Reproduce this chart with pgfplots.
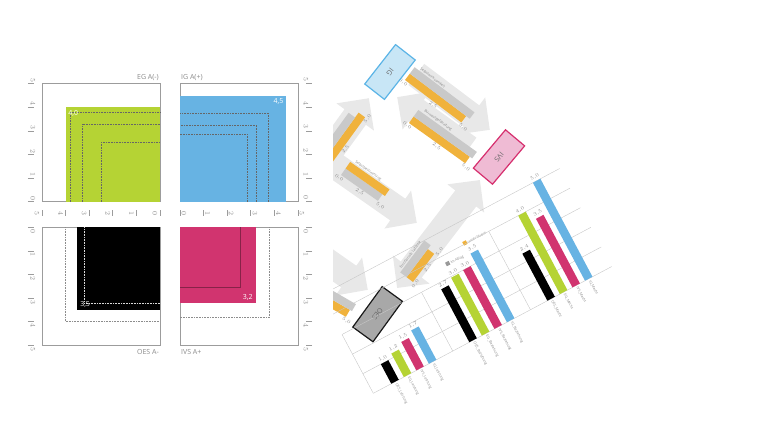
\documentclass[border=0pt]{standalone}
\usepackage{pgfplots}
\pgfplotsset{compat=1.18}
\usetikzlibrary{shapes.arrows}
\usepackage{fontspec}
\setmainfont{Open Sans}
\definecolor{tc}{HTML}{8A8A8A}
\definecolor{ac}{HTML}{9C9C9C}
\definecolor{cgreen}{HTML}{B5D334}
\definecolor{cblue}{HTML}{67B3E3}
\definecolor{cpink}{HTML}{D1346F}
\definecolor{corange}{HTML}{F0B23C}
\definecolor{cgray}{HTML}{C9C9C9}
\definecolor{carrow}{HTML}{E8E8E8}
\definecolor{iglight}{HTML}{C8E6F6}
\definecolor{igdark}{HTML}{5BB4E6}
\definecolor{ivslight}{HTML}{EFBBD4}
\definecolor{ivsdark}{HTML}{D62F6E}
\definecolor{oesgray}{HTML}{A8A8A8}
\newcommand{\tf}{\fontsize{7}{8}\selectfont}
\newcommand{\mtf}{\fontsize{3.6}{4}\selectfont}
\pgfplotsset{
  panel/.style={
    x=23.6pt, y=23.6pt, xmin=0, xmax=5, ymin=0, ymax=5,
    scale only axis, clip=false,
    axis line style={draw=ac, line width=0.7pt},
    xtick={0,...,5}, ytick={0,...,5},
    tick align=outside, major tick length=6pt,
    tick style={draw=ac, line width=0.8pt},
    ticklabel style={font=\tf, text=tc, inner sep=0pt},
    xticklabel={\rotatebox{-90}{\pgfmathprintnumber{\tick}}},
    yticklabel={\rotatebox{-90}{\pgfmathprintnumber{\tick}}},
  },
  dl/.style={densely dotted, line width=0.6pt, draw=black!60},
  minist/.style={scale only axis, clip=false, xbar, bar width=8pt, bar shift=0pt,
    y=8pt, xmin=0, xmax=5, ymin=0, ymax=2,
    axis line style={draw=none}, major tick length=0pt,
    xtick={0,2.5,5}, ytick=\empty,
    xticklabel style={font=\mtf, text=tc, inner sep=1pt},
    /pgf/number format/use comma, /pgf/number format/fixed,
    /pgf/number format/fixed zerofill, /pgf/number format/precision=1},
}
\tikzset{garrow/.style={single arrow, fill=carrow, draw=none, minimum width=46pt,
  single arrow head extend=10pt, single arrow head indent=0pt, inner sep=0pt, anchor=tip}}
\newcommand{\mini}[9]{%
\begin{scope}[transform canvas={shift={(#1pt,#2pt)},rotate=#3}]
\begin{axis}[minist, at={(0pt,0pt)}, anchor=south west, x=#4pt]
\addplot[fill=#5, draw=none] coordinates {(#6,0.5)};
\addplot[fill=#7, draw=none] coordinates {(#8,1.5)};
\node[anchor=south west, font=\mtf, text=tc, inner sep=1pt] at (axis cs:0.3,2) {#9};
\end{axis}
\end{scope}}
\begin{document}
\begin{tikzpicture}
\useasboundingbox (0,0) rectangle (768pt,432pt);
% ---------- panel 1: EG A(-)
\begin{axis}[panel, name=p1, at={(42pt,230.3pt)}, anchor=south west,
  x dir=reverse, tick pos=left,
  xtick style={yshift=-8pt}, ytick style={xshift=-8pt},
  xticklabel style={anchor=center, yshift=-6pt, xshift=-5pt},
  yticklabel style={anchor=center, xshift=-3pt, yshift=3.5pt}]
\addplot[fill=cgreen, draw=none] coordinates {(0,4.0) (4.0,4.0)} \closedcycle;
\addplot[dl] coordinates {(3.8,0) (3.8,3.8) (0,3.8)};
\addplot[dl] coordinates {(3.3,0) (3.3,3.3) (0,3.3)};
\addplot[dl] coordinates {(2.5,0) (2.5,2.5) (0,2.5)};
\node[anchor=north west, text=white, font=\tf, inner sep=1.5pt] at (axis cs:3.95,3.95) {4,0};
\end{axis}
\node[anchor=south east, font=\tf, text=tc, inner sep=1pt] at ([yshift=2pt]p1.north east) {EG A(-)};
% ---------- panel 2: IG A(+)
\begin{axis}[panel, name=p2, at={(180pt,230.3pt)}, anchor=south west,
  xtick pos=left, ytick pos=right,
  xtick style={yshift=-8pt}, ytick style={xshift=8pt},
  xticklabel style={anchor=center, yshift=-6pt, xshift=4pt},
  yticklabel style={anchor=center, xshift=2pt, yshift=4pt}]
\addplot[fill=cblue, draw=none] coordinates {(0,4.5) (4.5,4.5)} \closedcycle;
\addplot[dl] coordinates {(3.75,0) (3.75,3.75) (0,3.75)};
\addplot[dl] coordinates {(3.25,0) (3.25,3.25) (0,3.25)};
\addplot[dl] coordinates {(2.85,0) (2.85,2.85) (0,2.85)};
\node[anchor=north east, text=white, font=\tf, inner sep=1.5pt] at (axis cs:4.45,4.45) {4,5};
\end{axis}
\node[anchor=south west, font=\tf, text=tc, inner sep=1pt] at ([yshift=2pt]p2.north west) {IG A(+)};
% ---------- panel 3: OES A-
\begin{axis}[panel, name=p3, at={(42pt,86.7pt)}, anchor=south west,
  x dir=reverse, y dir=reverse, xtick=\empty, ytick pos=left,
  ytick style={xshift=-8pt},
  yticklabel style={anchor=center, xshift=-3pt, yshift=-4pt}]
\addplot[fill=black, draw=none] coordinates {(0,3.5) (3.5,3.5)} \closedcycle;
\addplot[densely dotted, line width=0.6pt, draw=white!85!black] coordinates {(3.2,0) (3.2,3.2) (0,3.2)};
\addplot[dl, draw=black!45] coordinates {(4.0,0) (4.0,4.0) (0,4.0)};
\node[anchor=south west, text=white, font=\tf, inner sep=1.5pt] at (axis cs:3.45,3.45) {3,5};
\end{axis}
\node[anchor=north east, font=\tf, text=tc, inner sep=1pt] at ([yshift=-3pt]p3.south east) {OES A-};
% ---------- panel 4: IVS A+
\begin{axis}[panel, name=p4, at={(180pt,86.7pt)}, anchor=south west,
  y dir=reverse, xtick=\empty, ytick pos=right,
  ytick style={xshift=8pt},
  yticklabel style={anchor=center, xshift=2pt, yshift=-4pt}]
\addplot[fill=cpink, draw=none] coordinates {(0,3.2) (3.2,3.2)} \closedcycle;
\addplot[line width=0.5pt, draw=black!35!cpink] coordinates {(2.55,0) (2.55,2.55) (0,2.55)};
\addplot[dl, draw=black!45] coordinates {(3.8,0) (3.8,3.8) (0,3.8)};
\node[anchor=south east, text=white, font=\tf, inner sep=1.5pt] at (axis cs:3.15,3.15) {3,2};
\end{axis}
\node[anchor=north west, font=\tf, text=tc, inner sep=1pt] at ([yshift=-3pt]p4.south west) {IVS A+};
% ---------- right side diagram
\begin{scope}
\clip (333pt,0pt) rectangle (768pt,432pt);
% arrows
\node[garrow, minimum height=90pt, rotate=54] at (369pt,334pt) {\rule{0pt}{26pt}};
\node[garrow, minimum height=88pt, rotate=144.4] at (397pt,335pt) {\rule{0pt}{26pt}};
\node[garrow, minimum height=92pt, rotate=-37] at (490pt,302pt) {\rule{0pt}{26pt}};
\node[garrow, minimum height=115pt, rotate=-35] at (417pt,209pt) {\rule{0pt}{26pt}};
\node[garrow, minimum height=85pt, rotate=-35] at (368pt,142pt) {\rule{0pt}{26pt}};
\node[double arrow, fill=carrow, draw=none, minimum width=46pt, double arrow head extend=10pt,
  double arrow head indent=0pt, inner sep=0pt, minimum height=136pt, rotate=52.5] at (438.5pt,198pt) {\rule{0pt}{26pt}};
% mini bars
\mini{405}{352}{-37}{15}{corange}{4.7}{cgray}{5.0}{Selbstwirksamkeit}
\mini{409}{309}{-35.6}{14.4}{corange}{4.8}{cgray}{5.0}{Burnoutgefährdung}
\mini{341}{257}{-35}{10}{cgray}{4.5}{corange}{4.8}{Selbstbestimmung}
\mini{321}{254}{54}{15}{corange}{5.0}{cgray}{4.6}{}
\mini{413}{150}{53}{8}{corange}{4.4}{cgray}{5.0}{Emotionale Labilität}
\mini{296}{144}{-30}{12}{corange}{4.8}{cgray}{5.0}{}
% boxes
\node[draw=igdark, fill=iglight, line width=1.2pt, minimum width=50pt, minimum height=25pt,
  rotate=232, font=\tf, text=black!60] at (390pt,360pt) {IG};
\node[draw=ivsdark, fill=ivslight, line width=1.2pt, minimum width=50pt, minimum height=25pt,
  rotate=230, font=\tf, text=black!60] at (499pt,275pt) {IVS};
\node[draw=black!90, fill=oesgray, line width=1.2pt, minimum width=50pt, minimum height=25pt,
  rotate=234, font=\tf, text=black!60] at (377.6pt,117.8pt) {OES};
% legend
\node[rotate=28, anchor=west, font=\mtf, text=tc, inner sep=0pt] at (446pt,167pt) {\textcolor{black!40}{\rule{4pt}{4pt}}~im Alltag};
\node[rotate=28, anchor=west, font=\mtf, text=tc, inner sep=0pt] at (463pt,188pt) {\textcolor{corange}{\rule{4pt}{4pt}}~unter Stress};
% main rotated bar chart
\begin{scope}[transform canvas={shift={(373.3pt,38.7pt)}, rotate=28}]
\begin{axis}[at={(0pt,0pt)}, anchor=south west, scale only axis, clip=false,
  x=1pt, y=22.2pt, xmin=0, xmax=270, ymin=0, ymax=5.3,
  axis line style={draw=none}, major tick length=0pt,
  ytick={0,...,5}, yticklabels={}, ymajorgrids,
  grid style={draw=black!22, line width=0.4pt},
  xtick={24.6,38.8,53.0,67.2,113.0,127.2,141.4,155.6,201.4,215.6,229.8,244.0},
  xticklabels={OES\_Leistung,EG\_Leistung,IVS\_Leistung,IG\_Leistung,
    OES\_Beziehung,EG\_Beziehung,IVS\_Beziehung,IG\_Beziehung,
    OES\_Macht,EG\_Macht,IVS\_Macht,IG\_Macht},
  xticklabel style={rotate=-90, anchor=west, font=\mtf, text=tc, inner sep=2pt},
  bx/.style={ybar, bar width=8.5pt, bar shift=0pt, draw=none,
    nodes near coords={\pgfmathprintnumber[use comma,fixed,fixed zerofill,precision=1]{\pgfplotspointmeta}},
    nodes near coords style={font=\mtf, text=tc, inner sep=1.5pt}}]
\addplot[bx, fill=black] coordinates {(24.6,1.0) (113.0,2.7) (201.4,2.4)};
\addplot[bx, fill=cgreen] coordinates {(38.8,1.2) (127.2,2.95) (215.6,4.0)};
\addplot[bx, fill=cpink] coordinates {(53.0,1.45) (141.4,3.0) (229.8,3.5)};
\addplot[bx, fill=cblue] coordinates {(67.2,1.7) (155.6,3.5) (244.0,5.0)};
\addplot[sharp plot, draw=black!22, line width=0.4pt] coordinates {(0,0) (0,3)};
\addplot[sharp plot, draw=black!22, line width=0.4pt] coordinates {(90,0) (90,3)};
\addplot[sharp plot, draw=black!22, line width=0.4pt] coordinates {(178,0) (178,4)};
\end{axis}
\end{scope}
\end{scope}
\end{tikzpicture}
\end{document}
